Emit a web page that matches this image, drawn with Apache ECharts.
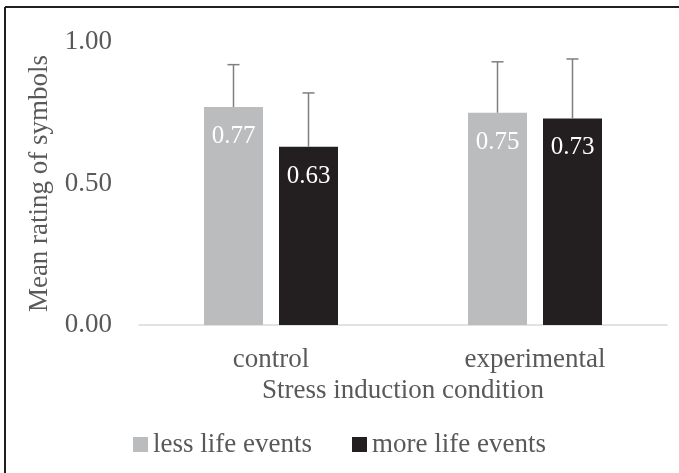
<!DOCTYPE html>
<html>
<head>
<meta charset="utf-8">
<script src="https://cdn.jsdelivr.net/npm/echarts@6/dist/echarts.min.js"></script>
<style>
  html, body { margin: 0; padding: 0; background: #fff; }
  #chart { width: 679px; height: 473px; }
</style>
</head>
<body>
<div id="chart"></div>
<script>
// data
const categories = ['control', 'experimental'];
const seriesNames = ['less life events', 'more life events'];
const lessLifeEvents = [0.77, 0.75];
const moreLifeEvents = [0.63, 0.73];
// upper error bar lengths
const lessErr = [0.15, 0.18];
const moreErr = [0.19, 0.21];
const yMin = 0, yMax = 1, yStep = 0.5;

const font = '"Liberation Serif", "Times New Roman", serif';
const textGray = '#595959';
const colors = ['#bbbcbe', '#231f20'];
const barWidth = 59;
const barGapPx = 16;

function errSeries(values, errs, offset) {
  return {
    type: 'custom',
    z: 10,
    silent: true,
    data: values.map((v, i) => [i, v, v + errs[i]]),
    renderItem: function (params, api) {
      const base = api.coord([api.value(0), api.value(1)]);
      const top = api.coord([api.value(0), api.value(2)]);
      const x = base[0] + offset;
      const style = { stroke: '#7f7f7f', lineWidth: 1.5 };
      return {
        type: 'group',
        children: [
          { type: 'line', shape: { x1: x, y1: base[1], x2: x, y2: top[1] }, style: style },
          { type: 'line', shape: { x1: x - 6, y1: top[1], x2: x + 6, y2: top[1] }, style: style }
        ]
      };
    }
  };
}

const chart = echarts.init(document.getElementById('chart'));
const half = (barWidth + barGapPx) / 2;

const option = {
  animation: false,
  textStyle: { fontFamily: font },
  grid: { left: 139, right: 12, top: 42, bottom: 148 },
  legend: {
    data: seriesNames,
    left: 'center',
    top: 426,
    icon: 'rect',
    itemWidth: 15,
    itemHeight: 15,
    itemGap: 40,
    textStyle: { fontFamily: font, fontSize: 27, color: textGray }
  },
  xAxis: {
    type: 'category',
    data: categories,
    axisLine: { lineStyle: { color: '#d9d9d9', width: 1.5 } },
    axisTick: { show: false },
    axisLabel: { fontFamily: font, fontSize: 27, color: textGray, margin: 21 },
    name: 'Stress induction condition',
    nameLocation: 'middle',
    nameGap: 51,
    nameTextStyle: { fontFamily: font, fontSize: 27, color: textGray }
  },
  yAxis: {
    type: 'value',
    min: yMin,
    max: yMax,
    interval: yStep,
    splitLine: { show: false },
    axisLine: { show: false },
    axisTick: { show: false },
    axisLabel: {
      fontFamily: font, fontSize: 27, color: textGray, margin: 27,
      formatter: v => v.toFixed(2)
    },
    name: 'Mean rating of symbols',
    nameLocation: 'middle',
    nameGap: 80,
    nameTextStyle: { fontFamily: font, fontSize: 27, color: textGray }
  },
  series: [
    {
      name: seriesNames[0],
      type: 'bar',
      data: lessLifeEvents,
      barWidth: barWidth,
      barGap: (barGapPx / barWidth * 100) + '%',
      itemStyle: { color: colors[0] },
      label: {
        show: true, position: 'insideTop', distance: 17,
        color: '#ffffff', fontFamily: font, fontSize: 25,
        formatter: p => p.value.toFixed(2)
      }
    },
    {
      name: seriesNames[1],
      type: 'bar',
      data: moreLifeEvents,
      barWidth: barWidth,
      itemStyle: { color: colors[1] },
      label: {
        show: true, position: 'insideTop', distance: 17,
        color: '#ffffff', fontFamily: font, fontSize: 25,
        formatter: p => p.value.toFixed(2)
      }
    },
    errSeries(lessLifeEvents, lessErr, -half),
    errSeries(moreLifeEvents, moreErr, half)
  ],
  graphic: [
    { type: 'line', shape: { x1: 5, y1: 7, x2: 679, y2: 7 }, style: { stroke: '#231f20', lineWidth: 2 } },
    { type: 'line', shape: { x1: 5, y1: 7, x2: 5, y2: 473 }, style: { stroke: '#231f20', lineWidth: 2 } }
  ]
};

chart.setOption(option);
window.onresize = chart.resize;
</script>
</body>
</html>
